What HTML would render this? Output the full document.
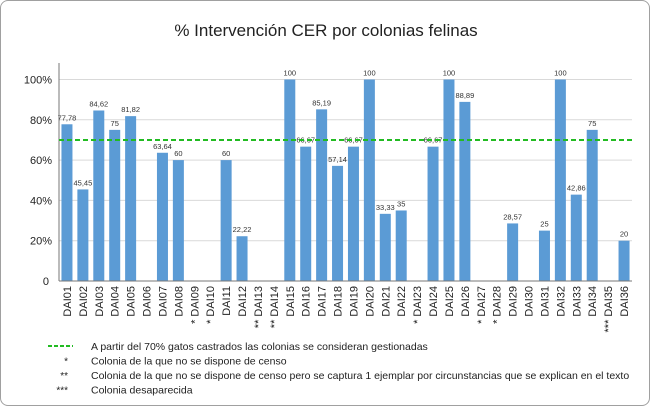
<!DOCTYPE html>
<html><head><meta charset="utf-8"><style>
body{margin:0;background:#fff;font-family:"Liberation Sans",sans-serif}
#w{position:relative;width:648px;height:404px;border:1px solid #a0a0a0;border-radius:8px;overflow:hidden}
</style></head><body>
<div id="w">
<svg id="s" width="648" height="404"></svg>
</div>
<script>
const categories=["DAI01","DAI02","DAI03","DAI04","DAI05","DAI06","DAI07","DAI08","DAI09","DAI10","DAI11","DAI12","DAI13","DAI14","DAI15","DAI16","DAI17","DAI18","DAI19","DAI20","DAI21","DAI22","DAI23","DAI24","DAI25","DAI26","DAI27","DAI28","DAI29","DAI30","DAI31","DAI32","DAI33","DAI34","DAI35","DAI36"];
const values=[77.78,45.45,84.62,75,81.82,0,63.64,60,null,null,60,22.22,null,null,100,66.67,85.19,57.14,66.67,100,33.33,35,null,66.67,100,88.89,null,null,28.57,0,25,100,42.86,75,null,20];
const valueLabels=["77,78","45,45","84,62","75","81,82","","63,64","60","","","60","22,22","","","100","66,67","85,19","57,14","66,67","100","33,33","35","","66,67","100","88,89","","","28,57","","25","100","42,86","75","","20"];
const marks=["","","","","","","","","*","*","","","**","**","","","","","","","","","*","","","","*","*","","","","","","","***",""];
const yTicks=[0,20,40,60,80,100];
const yTickLabels=["0","20%","40%","60%","80%","100%"];
const threshold=70;
const S="http://www.w3.org/2000/svg",svg=document.getElementById('s');
function el(t,a,txt){const e=document.createElementNS(S,t);for(const k in a)e.setAttribute(k,a[k]);if(txt!=null)e.textContent=txt;svg.appendChild(e);return e;}
const x0=58,x1=631,yB=280,yT=78.5;
const step=(x1-x0)/categories.length;
const xC=i=>x0+step*(i+0.5);
const y=v=>yB-(v/100)*(yB-yT);
const t=el('text',{x:325,y:35,'text-anchor':'middle','font-size':17,fill:'#222'},'% Intervención CER por colonias felinas');

yTicks.forEach((v,i)=>{
 if(v>0){const g=el('line',{x1:x0,x2:x1,y1:y(v),y2:y(v),stroke:'#d9d9d9'});}
 const l=el('text',{x:i?51:48,y:y(v)+4,'text-anchor':'end','font-size':11,fill:'#222'},yTickLabels[i]);
 
});
values.forEach((v,i)=>{
 if(v){const r=el('rect',{x:xC(i)-5.5,y:y(v),width:11,height:yB-y(v),fill:'#5b9bd5'});}
 if(valueLabels[i]){const l=el('text',{x:xC(i),y:y(v||0)-4,'text-anchor':'middle','font-size':7.5,fill:'#333'},valueLabels[i]);}
 const c=el('text',{transform:`translate(${xC(i)+4},${yB+5}) rotate(-90)`,'text-anchor':'end','font-size':11,fill:'#222'},(marks[i]?marks[i]+' ':'')+categories[i]);
 
});
const ax=el('line',{x1:x0,x2:x0,y1:62,y2:yB,stroke:'#777'});
const bx=el('line',{x1:x0,x2:x1,y1:yB,y2:yB,stroke:'#777'});
const th=el('line',{x1:x0,x2:x1+1,y1:y(threshold),y2:y(threshold),stroke:'#22bb22','stroke-width':2,'stroke-dasharray':'5,3'});
const leg=[["A partir del 70% gatos castrados las colonias se consideran gestionadas",""],["Colonia de la que no se dispone de censo","*"],["Colonia de la que no se dispone de censo pero se captura 1 ejemplar por circunstancias que se explican en el texto","**"],["Colonia desaparecida","***"]];
leg.forEach((l,i)=>{
 const yy=349+i*14.5;
 if(i===0){const d=el('line',{x1:47,x2:72,y1:yy-4,y2:yy-4,stroke:'#22bb22','stroke-width':2,'stroke-dasharray':'4,2'});}
 else{const m=el('text',{x:67,y:yy,'text-anchor':'end','font-size':10,fill:'#222'},l[1]);}
 const tx=el('text',{x:90,y:yy,'font-size':10.5,fill:'#222'},l[0]);
});
</script>
</body></html>
